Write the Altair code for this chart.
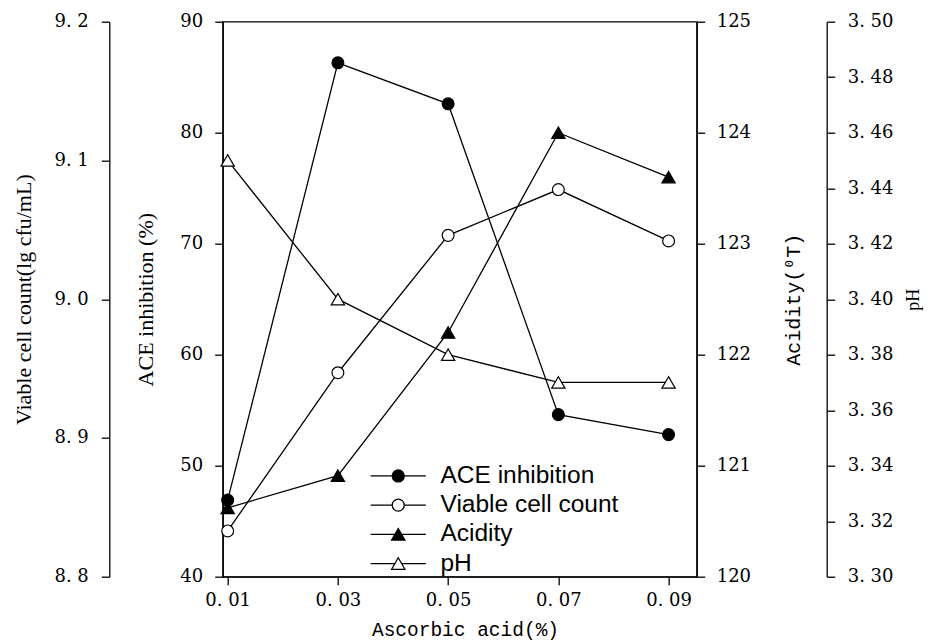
import altair as alt
import pandas as pd

# ---- data ----
ascorbic = [0.01, 0.03, 0.05, 0.07, 0.09]
ace_inhibition = [46.9, 86.3, 82.6, 54.6, 52.8]
viable_count = [8.833, 8.947, 9.046, 9.079, 9.042]
acidity = [120.62, 120.91, 122.20, 124.0, 123.6]
ph = [3.45, 3.40, 3.38, 3.37, 3.37]

series_names = ["ACE inhibition", "Viable cell count", "Acidity", "pH"]
series_fills = ["black", "white", "black", "white"]
series_strokes = ["black", "black", "black", "black"]

x_ticks = [0.01, 0.03, 0.05, 0.07, 0.09]
ace_ticks = [40, 50, 60, 70, 80, 90]
viable_ticks = [8.8, 8.9, 9.0, 9.1, 9.2]
acidity_ticks = [120, 121, 122, 123, 124, 125]
ph_ticks = [3.30, 3.32, 3.34, 3.36, 3.38, 3.40, 3.42, 3.44, 3.46, 3.48, 3.50]

df = pd.DataFrame({
    "x": ascorbic,
    "ace": ace_inhibition,
    "viable": viable_count,
    "acidity": acidity,
    "ph": ph,
})
legend_df = pd.DataFrame({"series": series_names})

# legend symbols: line segment + marker
circle_path = "M-4.6,0H-1M1,0H4.6M1,0A1,1,0,1,1,-1,0A1,1,0,1,1,1,0Z"
triangle_path = "M-4.6,0H-0.554M0.554,0H4.6M0,-0.96L1.108,0.96L-1.108,0.96Z"
legend_paths = [circle_path, circle_path, triangle_path, triangle_path]

SERIF = "'Liberation Serif', 'Times New Roman', serif"
MONO = "'Liberation Mono', 'DejaVu Sans Mono', monospace"
TICKFONT = "'DejaVu Serif', serif"

W, H = 474, 555

X = alt.X(
    "x:Q",
    scale=alt.Scale(domain=[0.0091, 0.0951], nice=False, zero=False),
    axis=alt.Axis(
        values=x_ticks,
        labelExpr="replace(format(datum.value, '.2f'), '.', '. ')",
        labelFlush=False,
        labelPadding=7,
        title="Ascorbic acid(%)",
        titleFont=MONO,
        titleFontSize=19.5,
        titleX=242.3,
        titleY=53,
        titleBaseline="middle",
        titleAlign="center",
    ),
)


def series_layer(col, domain, axis, shape, fill, size):
    base = alt.Chart(df).encode(
        x=X,
        y=alt.Y(f"{col}:Q", scale=alt.Scale(domain=domain, nice=False, zero=False), axis=axis),
    )
    line = base.mark_line(color="black", strokeWidth=1.3)
    pts = base.mark_point(
        shape=shape, filled=True, fill=fill, stroke="black",
        strokeWidth=1.2, size=size, opacity=1,
    )
    return alt.layer(line, pts)


ace_axis = alt.Axis(
    orient="left", offset=0, values=ace_ticks, labelPadding=12,
    title="ACE inhibition (%)", titleFont=SERIF, titleFontSize=22,
    titleX=-77.2, titleY=H / 2, titleAngle=270, titleBaseline="middle", titleAlign="center",
)
viable_axis = alt.Axis(
    orient="left", offset=113.4, values=viable_ticks, labelPadding=13,
    labelExpr="replace(format(datum.value, '.1f'), '.', '. ')",
    title="Viable cell count(lg cfu/mL)", titleFont=SERIF, titleFontSize=22,
    titleX=-86.3, titleY=H / 2, titleAngle=270, titleBaseline="middle", titleAlign="center",
)
acidity_axis = alt.Axis(
    orient="right", offset=0, values=acidity_ticks, labelPadding=11.5,
    title="Acidity(⁰T)", titleFont=MONO, titleFontSize=20,
    titleX=97.3, titleY=H / 2, titleAngle=270, titleBaseline="middle", titleAlign="center",
)
ph_axis = alt.Axis(
    orient="right", offset=130, values=ph_ticks, labelPadding=12.5,
    labelExpr="replace(format(datum.value, '.2f'), '.', '. ')",
    title="pH", titleFont=SERIF, titleFontSize=18,
    titleX=86.5, titleY=H / 2, titleAngle=270, titleBaseline="middle", titleAlign="center",
)

ace_layer = series_layer("ace", [40, 90], ace_axis, "circle", "black", 140)
viable_layer = series_layer("viable", [8.8, 9.2], viable_axis, "circle", "white", 140)
acidity_layer = series_layer("acidity", [120, 125], acidity_axis, "triangle-up", "black", 177)
ph_layer = series_layer("ph", [3.30, 3.50], ph_axis, "triangle-up", "white", 177)

legend_def = alt.Legend(
    title=None,
    orient="none",
    legendX=163.3,
    legendY=442,
    padding=0,
    symbolSize=144,
    symbolStrokeColor="black",
    symbolStrokeWidth=1.3,
    symbolOpacity=1,
    labelOffset=30,
    labelFont="'Liberation Sans', Arial, sans-serif",
    labelFontSize=24.5,
    labelColor="black",
    labelLimit=400,
    rowPadding=4.2,
)

legend_layer = (
    alt.Chart(legend_df)
    .mark_point(filled=True, opacity=1, strokeWidth=1.3)
    .encode(
        shape=alt.Shape("series:N", scale=alt.Scale(domain=series_names, range=legend_paths), legend=legend_def),
        fill=alt.Fill("series:N", scale=alt.Scale(domain=series_names, range=series_fills), legend=legend_def),
        stroke=alt.Stroke("series:N", scale=alt.Scale(domain=series_names, range=series_strokes), legend=legend_def),
    )
    .transform_filter("false")
)

chart = (
    alt.layer(ace_layer, viable_layer, acidity_layer, ph_layer, legend_layer)
    .resolve_scale(y="independent")
    .properties(
        width=W,
        height=H,
        autosize=alt.AutoSizeParams(type="none"),
        padding={"left": 214.7, "top": 13.7, "right": 228, "bottom": 66},
        background="white",
    )
    .configure_view(stroke="black", strokeWidth=1.3)
    .configure_axis(
        grid=False,
        domainColor="black",
        domainWidth=1.3,
        tickColor="black",
        tickWidth=1.3,
        tickSize=8,
        labelColor="black",
        labelFont=TICKFONT,
        labelFontSize=18,
        titleColor="black",
        titleFontWeight="normal",
    )
)

chart.save("out.html", embed_options={"renderer": "svg", "actions": False})
